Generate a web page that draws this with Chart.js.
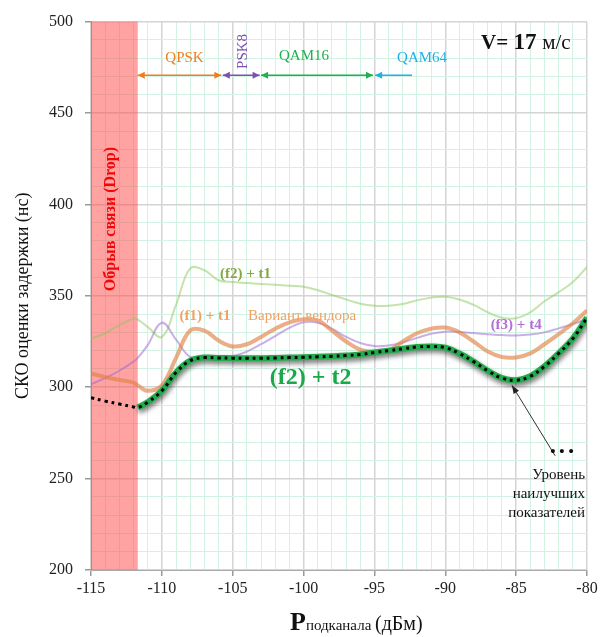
<!DOCTYPE html>
<html lang="ru">
<head>
  <meta charset="UTF-8">
  <title>СКО оценки задержки</title>
  <script src="https://cdn.jsdelivr.net/npm/chart.js@4.4.3/dist/chart.umd.min.js"></script>
  <style>
    html, body { margin: 0; padding: 0; background: #fff; }
  </style>
</head>
<body>
  <canvas id="chart" width="603" height="637"></canvas>

  <script>
    // мощность подканала, дБм
    const power = [-115, -114, -113, -112, -111.7, -111, -110, -109, -108, -107, -106, -105, -104, -103, -102, -101, -100,
      -99, -98, -97, -96, -95, -94, -93, -92, -91, -90, -89, -88, -87, -86, -85, -84, -83, -82, -81, -80];

    // уровень наилучших показателей (пунктир)
    const bestLevel = [294.2, 292.4, 290.8, 289.2, 288.8, 291.8, 298, 308, 314.5, 316.2, 316, 315.9, 315.8, 315.8, 316, 316.2, 316.4,
      316.6, 316.9, 317.3, 317.9, 319, 320, 321, 322, 322.3, 321.6, 318.4, 314, 309, 305, 303.8, 306, 311.4, 318.5, 326.6, 338];
    // (f2) + t2, начинается после обрыва связи
    const f2t2 = [null, null, null, null, 288.8, 291.8, 298, 308, 314.5, 316.2, 316, 315.9, 315.8, 315.8, 316, 316.2, 316.4,
      316.6, 316.9, 317.3, 317.9, 319, 320, 321, 322, 322.3, 321.6, 318.4, 314, 309, 305, 303.8, 306, 311.4, 318.5, 326.6, 338];
    // (f1) + t1 — вариант вендора
    const f1t1 = [307.6, 305.5, 304, 302.5, 301, 298, 301, 316, 331, 331, 325.5, 322.3, 323.5, 327.5, 332, 335.5, 337.2,
      336.5, 331, 325, 320.5, 319.3, 320, 325, 329.5, 332, 332.6, 330, 325, 319.5, 316.5, 316.3, 318.5, 323.5, 329, 335, 342];
    // (f3) + t4
    const f3t4 = [301.6, 305, 309, 314, 316, 323, 335.3, 326, 316.5, 315.5, 316, 317, 319.5, 323.5, 328, 332.5, 335.5,
      335.3, 332, 327.5, 324.2, 322.5, 322.8, 324.5, 327, 329.2, 330.4, 330.2, 329.6, 329, 328.5, 328.3, 328.8, 330, 332.2, 334.5, 337.5];
    // (f2) + t1
    const f2t1 = [326.6, 329.5, 334, 337.5, 337, 333, 327.5, 345, 365, 364, 358.5, 357.5, 357, 356.5, 356, 355.5, 355,
      353, 350.5, 348, 345.7, 344.6, 344.6, 345.5, 347.5, 349, 349.5, 348, 345, 341, 338, 337.7, 341, 347, 352, 357.5, 365.8];

    // зона обрыва связи
    const dropFrom = -115;
    const dropTo = -111.7;

    // диапазоны модуляций
    const modNames = ['QPSK', 'PSK8', 'QAM16', 'QAM64'];
    const modFrom = [-111.7, -105.7, -103.0, -94.95];
    const modTo = [-105.8, -103.1, -95.1, -92.35];

    const serif = '"Liberation Serif", "Times New Roman", serif';

    const toPoints = arr => arr.map((v, i) => ({ x: power[i], y: v }));

    function head(ctx, x, y, dir, color) {
      ctx.fillStyle = color;
      ctx.beginPath();
      ctx.moveTo(x, y);
      ctx.lineTo(x - dir * 7, y - 3.5);
      ctx.lineTo(x - dir * 7, y + 3.5);
      ctx.closePath();
      ctx.fill();
    }

    const dropZone = {
      id: 'dropZone',
      beforeDatasetsDraw(chart) {
        const { ctx, chartArea, scales: { x } } = chart;
        const l = x.getPixelForValue(dropFrom), r = x.getPixelForValue(dropTo);
        ctx.save();
        ctx.fillStyle = 'rgba(255, 70, 70, 0.5)';
        ctx.fillRect(l, chartArea.top, r - l, chartArea.bottom - chartArea.top);
        ctx.restore();
      }
    };

    const shadow = {
      id: 'shadow',
      beforeDatasetDraw(chart, args) {
        if (args.index !== 1) return;
        const ctx = chart.ctx;
        ctx.save();
        ctx.shadowColor = 'rgba(0, 0, 0, 0.55)';
        ctx.shadowBlur = 5;
        ctx.shadowOffsetX = 1;
        ctx.shadowOffsetY = 3;
      },
      afterDatasetDraw(chart, args) {
        if (args.index === 1) chart.ctx.restore();
      }
    };

    const notes = {
      id: 'notes',
      afterDatasetsDraw(chart) {
        const { ctx, scales: { x, y } } = chart;
        const X = v => x.getPixelForValue(v), Y = v => y.getPixelForValue(v);
        ctx.save();
        ctx.textBaseline = 'middle';

        // обрыв связи
        ctx.save();
        ctx.translate(X(-113.6), Y(392));
        ctx.rotate(-Math.PI / 2);
        ctx.textAlign = 'center';
        ctx.fillStyle = '#f00808';
        ctx.font = 'bold 16px ' + serif;
        ctx.fillText('Обрыв связи (Drop)', 0, 0);
        ctx.restore();

        // модуляции
        const modColors = ['#f07d1e', '#7e4fb5', '#1fb050', '#1eb0e6'];
        const ay = Y(470.7);
        modNames.forEach((name, i) => {
          const a = X(modFrom[i]), b = X(modTo[i]);
          ctx.strokeStyle = modColors[i];
          ctx.lineWidth = 1.5;
          ctx.beginPath();
          ctx.moveTo(a, ay);
          ctx.lineTo(b, ay);
          ctx.stroke();
          head(ctx, a, ay, -1, modColors[i]);
          if (i < 3) head(ctx, b, ay, 1, modColors[i]);
        });
        ctx.font = '15px ' + serif;
        ctx.textAlign = 'center';
        ctx.fillStyle = modColors[0];
        ctx.fillText('QPSK', X(-108.4), Y(480));
        ctx.fillStyle = modColors[2];
        ctx.fillText('QAM16', X(-99.97), Y(481));
        ctx.fillStyle = modColors[3];
        ctx.fillText('QAM64', X(-91.64), Y(480));
        ctx.save();
        ctx.translate(X(-104.27), Y(483.7));
        ctx.rotate(-Math.PI / 2);
        ctx.fillStyle = modColors[1];
        ctx.fillText('PSK8', 0, 0);
        ctx.restore();

        // скорость
        ctx.textAlign = 'left';
        ctx.textBaseline = 'alphabetic';
        ctx.fillStyle = '#111';
        let vx = 481;
        const vy = 49;
        ctx.font = 'bold 21px ' + serif;
        ctx.fillText('V= ', vx, vy);
        vx += ctx.measureText('V= ').width;
        ctx.font = 'bold 23px ' + serif;
        ctx.fillText('17 ', vx, vy);
        vx += ctx.measureText('17 ').width;
        ctx.font = '21px ' + serif;
        ctx.fillText('м/с', vx, vy);

        // подписи кривых
        ctx.textBaseline = 'middle';
        ctx.textAlign = 'center';
        ctx.font = 'bold 15px ' + serif;
        ctx.fillStyle = '#83a947';
        ctx.fillText('(f2) + t1', X(-104.1), Y(362));
        ctx.fillStyle = '#f0a264';
        ctx.fillText('(f1) + t1', X(-106.95), Y(339));
        ctx.font = '15px ' + serif;
        ctx.fillText('Вариант вендора', X(-100.1), Y(339));
        ctx.font = 'bold 15px ' + serif;
        ctx.fillStyle = '#b26fd6';
        ctx.fillText('(f3) + t4', X(-85.0), Y(334.2));
        ctx.font = 'bold 24px ' + serif;
        ctx.fillStyle = '#19a84a';
        ctx.fillText('(f2) + t2', X(-99.5), Y(305.4));

        // стрелка к минимуму
        const tx = X(-82.25), ty = Y(262.5), hx = X(-85.3), hy = Y(301.1);
        ctx.strokeStyle = '#333';
        ctx.lineWidth = 1;
        ctx.beginPath();
        ctx.moveTo(tx, ty);
        ctx.lineTo(hx, hy);
        ctx.stroke();
        const ang = Math.atan2(hy - ty, hx - tx);
        ctx.fillStyle = '#222';
        ctx.beginPath();
        ctx.moveTo(hx, hy);
        ctx.lineTo(hx - 9 * Math.cos(ang - 0.35), hy - 9 * Math.sin(ang - 0.35));
        ctx.lineTo(hx - 9 * Math.cos(ang + 0.35), hy - 9 * Math.sin(ang + 0.35));
        ctx.closePath();
        ctx.fill();

        ctx.font = 'bold 15px ' + serif;
        ctx.fillStyle = '#111';
        ctx.fillText('• • •', 562, 452);
        ctx.font = '15px ' + serif;
        ctx.textAlign = 'right';
        ctx.fillText('Уровень', 585, 475);
        ctx.fillText('наилучших', 585, 494);
        ctx.fillText('показателей', 585, 513);

        // подпись оси X
        ctx.textAlign = 'left';
        ctx.textBaseline = 'alphabetic';
        ctx.fillStyle = '#111';
        let px = 290;
        const pb = 630;
        ctx.font = 'bold 26px ' + serif;
        ctx.fillText('P', px, pb);
        px += ctx.measureText('P').width;
        ctx.font = '15px ' + serif;
        ctx.fillText('подканала', px, pb);
        px += ctx.measureText('подканала ').width;
        ctx.font = '20px ' + serif;
        ctx.fillText('(дБм)', px, pb);

        ctx.restore();
      }
    };

    const majorGrid = '#d4d4d4';
    const minorGrid = '#d2f2e4';

    new Chart(document.getElementById('chart').getContext('2d'), {
      type: 'line',
      data: {
        datasets: [
          { label: 'Уровень наилучших показателей', data: toPoints(bestLevel), borderColor: '#000', borderWidth: 3, borderDash: [3, 4] },
          { label: '(f2) + t2', data: toPoints(f2t2), borderColor: '#22aa4c', borderWidth: 6 },
          { label: '(f1) + t1', data: toPoints(f1t1), borderColor: 'rgba(225, 130, 70, 0.65)', borderWidth: 4 },
          { label: '(f3) + t4', data: toPoints(f3t4), borderColor: 'rgba(160, 110, 210, 0.55)', borderWidth: 2 },
          { label: '(f2) + t1', data: toPoints(f2t1), borderColor: 'rgba(140, 200, 90, 0.5)', borderWidth: 2 }
        ]
      },
      options: {
        responsive: false,
        animation: false,
        elements: { point: { radius: 0 }, line: { fill: false, tension: 0.4 } },
        layout: { padding: { top: 18, right: 16, left: 0, bottom: 0 } },
        plugins: { legend: { display: false }, tooltip: { enabled: false } },
        scales: {
          x: {
            type: 'linear',
            min: -115,
            max: -80,
            afterFit: s => { s.height = 67; },
            ticks: {
              stepSize: 1,
              autoSkip: false,
              maxRotation: 0,
              padding: 3,
              color: '#222',
              font: { family: serif, size: 16 },
              callback: v => (v % 5 === 0 ? String(v) : '')
            },
            grid: {
              color: c => (c.tick && c.tick.value % 5 === 0 ? majorGrid : minorGrid),
              lineWidth: c => (c.tick && c.tick.value % 5 === 0 ? 1.5 : 1),
              tickColor: c => (c.tick && c.tick.value % 5 === 0 ? '#999' : 'transparent'),
              tickLength: 6
            },
            border: { color: '#aaa' }
          },
          y: {
            min: 200,
            max: 500,
            afterFit: s => { s.width = 91; },
            ticks: {
              stepSize: 10,
              autoSkip: false,
              padding: 12,
              color: '#222',
              font: { family: serif, size: 16 },
              callback: v => (v % 50 === 0 ? String(v) : '')
            },
            grid: {
              color: c => (c.tick && c.tick.value % 50 === 0 ? majorGrid : minorGrid),
              lineWidth: c => (c.tick && c.tick.value % 50 === 0 ? 1.5 : 1),
              tickColor: c => (c.tick && c.tick.value % 50 === 0 ? '#999' : 'transparent'),
              tickLength: 6
            },
            border: { color: '#aaa' },
            title: {
              display: true,
              text: 'СКО оценки задержки (нс)',
              color: '#111',
              font: { family: serif, size: 18 },
              padding: { top: 12, bottom: 0 }
            }
          }
        }
      },
      plugins: [dropZone, shadow, notes]
    });
  </script>
</body>
</html>
